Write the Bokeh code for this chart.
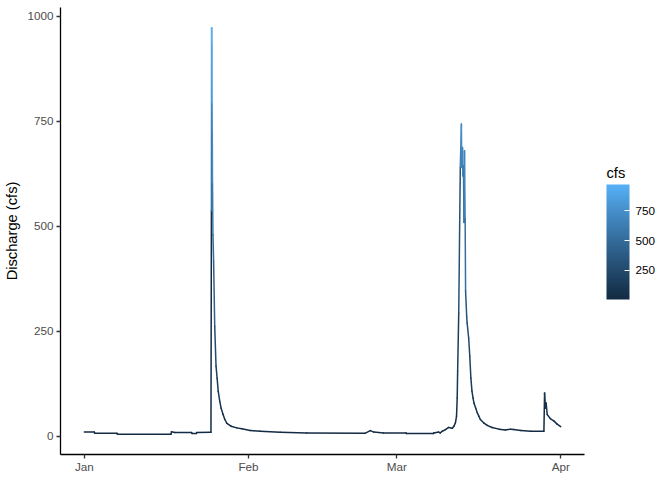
import numpy as np
import pandas as pd
from bokeh.plotting import figure
from bokeh.models import (ColumnDataSource, Range1d, FixedTicker, DatetimeTickFormatter,
                          LinearColorMapper, ColorBar, Label)
from bokeh.embed import file_html
from bokeh.resources import INLINE

# ---------------- data ----------------
times = [
    "2019-01-01 00:00", "2019-01-02 21:00", "2019-01-02 23:00", "2019-01-07 04:00", "2019-01-07 06:00",
    "2019-01-17 09:00", "2019-01-17 11:00", "2019-01-18 02:00", "2019-01-21 06:00", "2019-01-21 08:00",
    "2019-01-22 04:00", "2019-01-22 06:00", "2019-01-24 22:00",
    "2019-01-25 00:00", "2019-01-25 01:00", "2019-01-25 02:00", "2019-01-25 03:00", "2019-01-25 04:00",
    "2019-01-25 05:00", "2019-01-25 07:00", "2019-01-25 10:00", "2019-01-25 15:00", "2019-01-25 21:00",
    "2019-01-26 02:00", "2019-01-26 07:00", "2019-01-26 14:00", "2019-01-26 20:00", "2019-01-27 05:00",
    "2019-01-27 12:00", "2019-01-27 22:00", "2019-01-28 17:00", "2019-01-29 19:00", "2019-01-30 18:00",
    "2019-02-01 07:00", "2019-02-03 05:00", "2019-02-07 00:00", "2019-02-12 00:00", "2019-02-23 00:00",
    "2019-02-24 00:00", "2019-02-24 16:00", "2019-02-26 12:00", "2019-03-02 18:00", "2019-03-02 20:00",
    "2019-03-07 22:00", "2019-03-08 00:00", "2019-03-08 22:00", "2019-03-09 05:00", "2019-03-09 14:00",
    "2019-03-10 05:00", "2019-03-10 19:00", "2019-03-11 12:00", "2019-03-11 19:00", "2019-03-12 02:00",
    "2019-03-12 07:00", "2019-03-12 10:00", "2019-03-12 12:00", "2019-03-12 17:00", "2019-03-13 00:00",
    "2019-03-13 05:00", "2019-03-13 07:00", "2019-03-13 10:00", "2019-03-13 12:00", "2019-03-13 14:00",
    "2019-03-13 17:00", "2019-03-13 19:00", "2019-03-13 22:00", "2019-03-14 00:00", "2019-03-14 05:00",
    "2019-03-14 07:00", "2019-03-14 14:00", "2019-03-14 19:00", "2019-03-15 00:00", "2019-03-15 05:00",
    "2019-03-15 10:00", "2019-03-15 14:00", "2019-03-15 22:00", "2019-03-16 05:00", "2019-03-16 12:00",
    "2019-03-16 19:00", "2019-03-17 10:00", "2019-03-18 02:00", "2019-03-19 00:00", "2019-03-20 07:00",
    "2019-03-21 12:00", "2019-03-22 12:00", "2019-03-23 02:00", "2019-03-24 10:00", "2019-03-26 07:00",
    "2019-03-28 19:00", "2019-03-28 22:00", "2019-03-29 02:00", "2019-03-29 05:00", "2019-03-29 10:00",
    "2019-03-30 00:00", "2019-03-30 17:00", "2019-03-31 07:00", "2019-03-31 23:00",
]
cfs = [
    10, 10, 7, 7, 5,
    5, 11, 9, 9, 6.5,
    6.5, 9, 9.5,
    537, 973, 932, 792, 727,
    601, 480, 417, 262, 167,
    138, 107, 83, 67, 52,
    41, 31, 24, 20, 18,
    14, 12, 9.5, 8, 7,
    13.5, 10, 8, 8, 6.5,
    6.5, 8, 10, 8, 12,
    16, 21, 19, 24, 32,
    48, 91, 155, 294, 640,
    744, 640, 688, 620, 644,
    509, 680, 518, 346, 286,
    270, 234, 191, 139, 107,
    91, 79, 67, 56, 48,
    40, 32, 26, 21, 17,
    15, 17, 16, 13.5, 12,
    12, 103, 67, 79, 52,
    42, 36, 29, 23,
]
tick_dates = ["2019-01-01", "2019-02-01", "2019-03-01", "2019-04-01"]
y_ticks = [0, 250, 500, 750, 1000]
legend_ticks = [250, 500, 750]
legend_title = "cfs"

# ---------------- colour scale (ggplot default gradient, Lab interpolation) ----------------
def _to_lab(hexcol):
    c = np.array([int(hexcol[i:i + 2], 16) / 255 for i in (1, 3, 5)])
    c = np.where(c <= 0.04045, c / 12.92, ((c + 0.055) / 1.055) ** 2.4)
    M = np.array([[0.4124564, 0.3575761, 0.1804375],
                  [0.2126729, 0.7151522, 0.0721750],
                  [0.0193339, 0.1191920, 0.9503041]])
    xyz = M @ c / np.array([0.95047, 1.0, 1.08883])
    d = 6 / 29
    f = np.where(xyz > d ** 3, np.cbrt(xyz), xyz / (3 * d * d) + 4 / 29)
    return np.array([116 * f[1] - 16, 500 * (f[0] - f[1]), 200 * (f[1] - f[2])])

def _from_lab(lab):
    L, a, b = lab
    fy = (L + 16) / 116
    fx = fy + a / 500
    fz = fy - b / 200
    d = 6 / 29
    f = np.array([fx, fy, fz])
    xyz = np.where(f > d, f ** 3, 3 * d * d * (f - 4 / 29)) * np.array([0.95047, 1.0, 1.08883])
    Minv = np.array([[3.2404542, -1.5371385, -0.4985314],
                     [-0.9692660, 1.8760108, 0.0415560],
                     [0.0556434, -0.2040259, 1.0572252]])
    c = Minv @ xyz
    c = np.clip(c, 0, 1)
    c = np.where(c <= 0.0031308, 12.92 * c, 1.055 * c ** (1 / 2.4) - 0.055)
    c = np.clip(np.round(c * 255), 0, 255).astype(int)
    return "#%02x%02x%02x" % tuple(c)

lo_lab, hi_lab = _to_lab("#132B43"), _to_lab("#56B1F7")
palette = [_from_lab(lo_lab + (hi_lab - lo_lab) * t) for t in np.linspace(0, 1, 256)]

# ---------------- build ----------------
t = pd.to_datetime(times)
v = np.array(cfs, dtype=float)
src = ColumnDataSource(dict(t0=t[:-1], t1=t[1:], v0=v[:-1], v1=v[1:]))

tspan = t.max() - t.min()
vspan = v.max() - v.min()
x_range = Range1d(start=(t.min() - 0.05 * tspan).to_pydatetime(), end=(t.max() + 0.05 * tspan).to_pydatetime())
y_range = Range1d(start=v.min() - 0.05 * vspan, end=v.max() + 0.05 * vspan)

FONT = "Liberation Sans"

p = figure(width=670, height=475, x_axis_type="datetime", x_range=x_range, y_range=y_range,
           output_backend="svg", toolbar_location=None,
           min_border_left=60, min_border_right=86, min_border_top=7, min_border_bottom=0)
p.outline_line_color = None
p.grid.visible = False
p.background_fill_color = "white"
p.border_fill_color = "white"

mapper = LinearColorMapper(palette=palette, low=v.min(), high=v.max())
p.segment(x0="t0", y0="v0", x1="t1", y1="v1", source=src, line_width=1.5, line_cap="round",
          color={"field": "v0", "transform": mapper})

tick_ms = [pd.Timestamp(d).value / 1e6 for d in tick_dates]
p.xaxis.ticker = FixedTicker(ticks=tick_ms)
fmt = "%b"
p.xaxis.formatter = DatetimeTickFormatter(microseconds=fmt, milliseconds=fmt, seconds=fmt, minsec=fmt,
                                          minutes=fmt, hourmin=fmt, hours=fmt, days=fmt, months=fmt, years=fmt)
p.yaxis.ticker = FixedTicker(ticks=y_ticks)
p.yaxis.axis_label = "Discharge (cfs)"

for ax in (p.xaxis[0], p.yaxis[0]):
    ax.axis_line_color = "black"
    ax.axis_line_width = 1.3
    ax.major_tick_line_color = "#333333"
    ax.major_tick_line_width = 1.3
    ax.major_tick_out = 4
    ax.major_tick_in = 0
    ax.minor_tick_line_color = None
    ax.major_label_text_font = FONT
    ax.major_label_text_font_size = "11.7px"
    ax.major_label_text_color = "#4D4D4D"
    ax.major_label_standoff = 3
    ax.axis_label_text_font = FONT
    ax.axis_label_text_font_size = "14.7px"
    ax.axis_label_text_font_style = "normal"
    ax.axis_label_text_color = "black"
    ax.axis_label_standoff = 4

xa = p.xaxis[0]
xa.axis_label = None
xa.axis_label_standoff = 0
xa.major_label_standoff = 1

cb = ColorBar(color_mapper=mapper, ticker=FixedTicker(ticks=legend_ticks),
              width=23, height=115, padding=0, location=(546, 155),
              title=None,
              major_label_text_font=FONT, major_label_text_font_size="11.7px",
              major_label_text_color="black", label_standoff=6,
              major_tick_line_color="white", major_tick_in=5, major_tick_out=0,
              minor_tick_line_color=None, bar_line_color=None,
              background_fill_color=None, border_line_color=None)
p.add_layout(cb, "center")

p.add_layout(Label(x=22, y=282, x_units="screen", y_units="screen", text=legend_title,
                   text_font=FONT, text_font_size="14.7px", text_color="black",
                   text_baseline="middle", text_align="left"), "right")

open("out.html", "w").write(file_html(p, INLINE))
